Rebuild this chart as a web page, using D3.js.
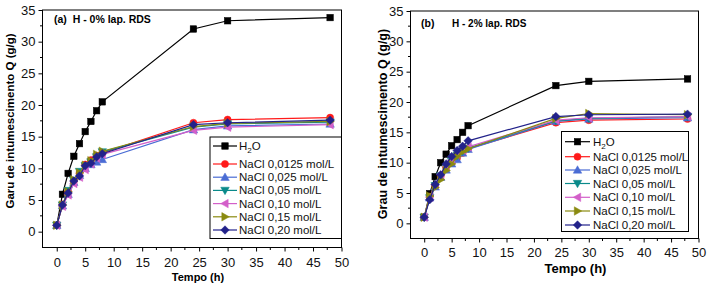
<!DOCTYPE html>
<html><head><meta charset="utf-8">
<script src="https://cdn.jsdelivr.net/npm/d3@7"></script>
<style>body{margin:0;background:#fff}svg{display:block}text{font-family:"Liberation Sans",Arial,sans-serif}</style>
</head><body><svg id="c" width="714" height="290"></svg>
<script>
const times = [0,1,2,3,4,5,6,7,8,24,30,48];
const seriesNames = ["H2O","NaCl 0,0125 mol/L","NaCl 0,025 mol/L","NaCl 0,05 mol/L","NaCl 0,10 mol/L","NaCl 0,15 mol/L","NaCl 0,20 mol/L"];
const xTicks = [0,5,10,15,20,25,30,35,40,45,50];
const yTicks = [0,5,10,15,20,25,30,35];
// Panel (a) H - 0% lap. RDS
const a_H2O   = [1.0,5.9,9.2,11.9,13.9,15.8,17.4,19.1,20.5,32.0,33.3,33.8];
const a_N0125 = [1.0,4.3,6.3,8.0,9.2,10.6,11.3,12.0,12.4,17.2,17.7,18.0];
const a_N025  = [1.0,4.1,5.9,7.8,8.9,10.0,10.6,11.0,11.4,16.1,16.7,17.0];
const a_N05   = [1.0,4.2,6.5,8.1,9.5,10.4,11.0,11.8,12.6,16.5,17.0,17.3];
const a_N10   = [1.0,4.0,5.8,7.6,8.6,9.8,10.7,11.6,12.2,16.0,16.5,16.9];
const a_N15   = [1.0,4.2,6.3,8.2,9.3,10.5,11.2,12.2,12.7,16.6,17.1,17.4];
const a_N20   = [1.0,4.2,6.1,8.0,8.8,10.4,10.8,11.8,12.3,16.9,17.2,17.6];
// Panel (b) H - 2% lap. RDS
const b_H2O   = [1.0,4.9,7.7,10.0,11.4,12.8,13.8,15.0,16.1,22.7,23.4,23.8];
const b_N0125 = [1.0,4.4,6.2,7.8,9.2,10.0,10.8,11.6,12.3,16.6,17.0,17.2];
const b_N025  = [1.0,4.2,6.0,7.6,8.8,9.8,10.5,11.6,12.2,16.8,17.2,17.4];
const b_N05   = [1.0,4.2,6.2,7.8,9.1,10.2,11.2,11.9,12.4,16.9,17.3,17.6];
const b_N10   = [1.0,4.3,6.4,8.1,9.4,10.4,11.4,12.1,12.6,17.0,17.4,17.6];
const b_N15   = [1.0,4.5,5.9,7.2,8.7,9.8,11.0,11.8,12.3,17.3,18.1,17.9];
const b_N20   = [1.0,3.9,6.4,8.0,9.8,11.0,12.0,12.7,13.6,17.6,17.9,18.0];

const colors = ["#000000","#ff1a1a","#4a6cd4","#0a8a8a","#d35fc9","#8a8a10","#22228a"];
const shapes = ["square","circle","up","down","left","right","diamond"];

const svg = d3.select("#c");

function marker(g, shape, x, y, color, s) {
  const h = s/2;
  let el;
  if (shape === "square") el = g.append("rect").attr("x", x-h).attr("y", y-h).attr("width", s).attr("height", s);
  else if (shape === "circle") el = g.append("circle").attr("cx", x).attr("cy", y).attr("r", h+0.3);
  else {
    const r = h+1;
    let pts;
    if (shape === "up") pts = [[x, y-r],[x+r, y+r*0.75],[x-r, y+r*0.75]];
    if (shape === "down") pts = [[x, y+r],[x+r, y-r*0.75],[x-r, y-r*0.75]];
    if (shape === "left") pts = [[x-r, y],[x+r*0.75, y-r],[x+r*0.75, y+r]];
    if (shape === "right") pts = [[x+r, y],[x-r*0.75, y-r],[x-r*0.75, y+r]];
    if (shape === "diamond") pts = [[x, y-r],[x+r, y],[x, y+r],[x-r, y]];
    el = g.append("polygon").attr("points", pts.map(p=>p.join(",")).join(" "));
  }
  el.attr("fill", color).attr("stroke", color).attr("stroke-width", 0.5);
}

function panel(cfg) {
  const x = d3.scaleLinear().domain([-2.5, 50]).range([cfg.left, cfg.right]);
  const y = d3.scaleLinear().domain([-2.5, 35]).range([cfg.bottom, cfg.top]);
  const g = svg.append("g");
  // frame
  g.append("rect").attr("x", cfg.left).attr("y", cfg.top)
    .attr("width", cfg.right-cfg.left).attr("height", cfg.bottom-cfg.top)
    .attr("fill","none").attr("stroke","#000").attr("stroke-width",1);
  // x axis
  const xa = g.append("g").attr("transform", `translate(0,${cfg.bottom})`)
    .call(d3.axisBottom(x).tickValues(xTicks).tickSize(4).tickPadding(cfg.xpad).tickFormat(d3.format("d")));
  xa.select(".domain").remove();
  xa.selectAll("text").attr("font-size", cfg.tickFont).attr("fill","#111").attr("font-family",'"Liberation Sans",Arial,sans-serif');
  const xminor = d3.range(2.5, 50, 5);
  g.selectAll(".xm").data(xminor).join("line").attr("x1", d=>x(d)).attr("x2", d=>x(d))
    .attr("y1", cfg.bottom).attr("y2", cfg.bottom+2.5).attr("stroke","#000");
  // y axis
  const ya = g.append("g").attr("transform", `translate(${cfg.left},0)`)
    .call(d3.axisLeft(y).tickValues(yTicks).tickSize(4).tickPadding(3).tickFormat(d3.format("d")));
  ya.select(".domain").remove();
  ya.selectAll("text").attr("font-size", cfg.tickFont).attr("fill","#111").attr("font-family",'"Liberation Sans",Arial,sans-serif');
  const yminor = d3.range(-2.5, 35, 5).filter(v=>v>-2.5);
  g.selectAll(".ym").data(yminor).join("line").attr("y1", d=>y(d)).attr("y2", d=>y(d))
    .attr("x1", cfg.left).attr("x2", cfg.left-2.5).attr("stroke","#000");
  // series
  const line = d3.line().x((d,i)=>x(times[i])).y(d=>y(d));
  cfg.data.forEach((s, k) => {
    g.append("path").attr("d", line(s)).attr("fill","none").attr("stroke", colors[k]).attr("stroke-width",1.2);
    s.forEach((v,i) => marker(g, shapes[k], x(times[i]), y(v), colors[k], cfg.ms));
  });
  // titles
  g.append("text").attr("x", cfg.xtX).attr("y", cfg.xtY).attr("text-anchor","middle")
    .attr("font-weight","bold").attr("font-size", cfg.xtFont).text("Tempo (h)");
  g.append("text").attr("transform", `translate(${cfg.ytX},${cfg.ytY}) rotate(-90)`).attr("text-anchor","middle")
    .attr("font-weight","bold").attr("font-size", cfg.ytFont).text(cfg.ylabel);
  cfg.titles.forEach(t => g.append("text").attr("x", t.x).attr("y", t.y)
    .attr("font-weight","bold").attr("font-size", t.f).attr("xml:space","preserve").text(t.s));
  // legend
  const L = cfg.legend;
  g.append("rect").attr("x", L.x).attr("y", L.y).attr("width", L.w).attr("height", L.h)
    .attr("fill","#fff").attr("stroke","#000").attr("stroke-width",1);
  seriesNames.forEach((n, k) => {
    const ry = L.rows[k];
    g.append("line").attr("x1", L.lx1).attr("x2", L.lx2).attr("y1", ry).attr("y2", ry)
      .attr("stroke", colors[k]).attr("stroke-width",1.2);
    marker(g, shapes[k], (L.lx1+L.lx2)/2, ry, colors[k], cfg.ms);
    const t = g.append("text").attr("x", L.tx).attr("y", ry+4).attr("font-size", L.f).attr("fill","#111");
    if (k === 0) {
      t.append("tspan").text("H");
      t.append("tspan").attr("font-size", L.f*0.7).attr("dy", 3).text("2");
      t.append("tspan").attr("dy", -3).text("O");
    } else t.text(n);
  });
}

panel({
  left: 42.5, right: 341.5, top: 10, bottom: 247.5, xpad: 6, tickFont: 13, ms: 6.5,
  data: [a_H2O,a_N0125,a_N025,a_N05,a_N10,a_N15,a_N20],
  xtX: 198, xtY: 281, xtFont: 11, ytX: 14, ytY: 121, ytFont: 11.5,
  ylabel: "Garu de intumescimento Q (g/g)",
  titles: [{x: 54, y: 23, f: 10.5, s: "(a)  H - 0% lap. RDS"}],
  legend: {x: 210, y: 137, w: 131.5, h: 101.5, lx1: 213, lx2: 237, tx: 239,
           rows: [146,164,177.2,190.4,203.6,216.8,230], f: 11.5}
});
panel({
  left: 410.5, right: 698.5, top: 11, bottom: 238.5, xpad: 5, tickFont: 13, ms: 6.5,
  data: [b_H2O,b_N0125,b_N025,b_N05,b_N10,b_N15,b_N20],
  xtX: 575.5, xtY: 273, xtFont: 13, ytX: 387, ytY: 124, ytFont: 12.5,
  ylabel: "Grau de intumescimento Q (g/g)",
  titles: [{x: 421, y: 27, f: 10.5, s: "(b)"}, {x: 452, y: 27, f: 10, s: "H - 2% lap. RDS"}],
  legend: {x: 561.5, y: 131.5, w: 127, h: 100, lx1: 565, lx2: 590, tx: 593,
           rows: [141.7,156.7,170,183.5,197.3,211,225], f: 11.5}
});
</script></body></html>
